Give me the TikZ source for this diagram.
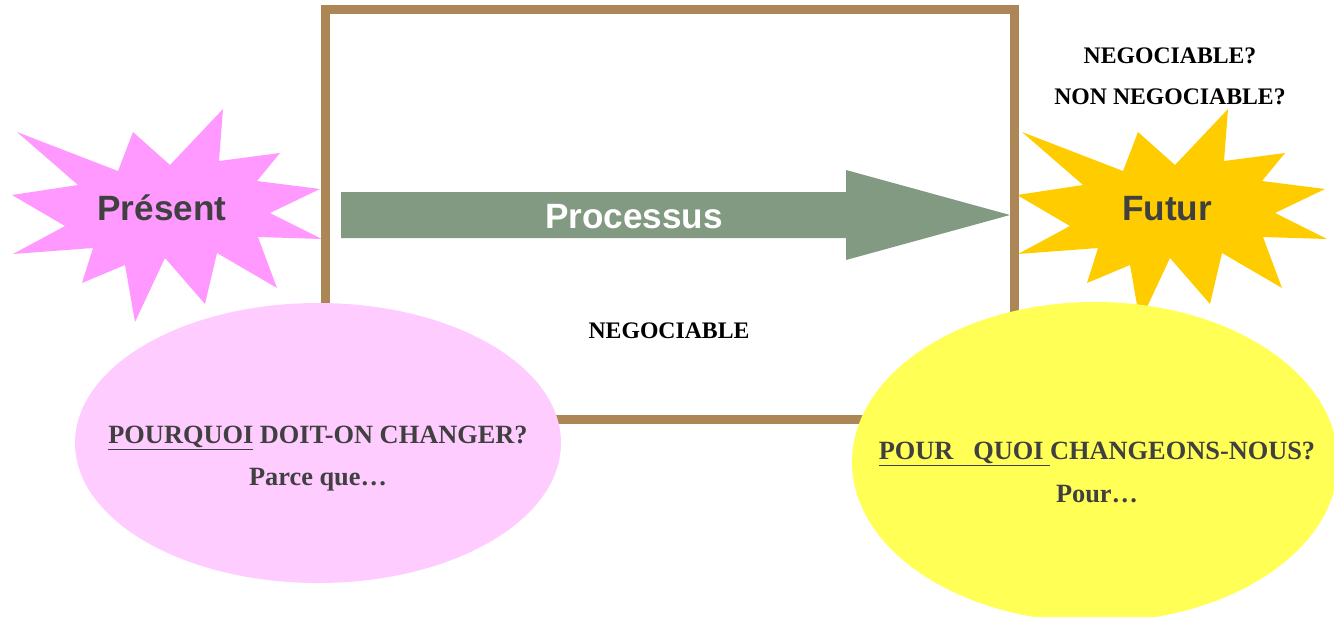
\documentclass[tikz,border=0pt]{standalone}
\usepackage{fontspec}
\setmainfont{Liberation Serif}
\newfontfamily\arialfont{Liberation Sans}
\definecolor{framebrown}{RGB}{173,134,85}
\definecolor{arrowgreen}{RGB}{130,154,130}
\definecolor{starpink}{RGB}{255,153,255}
\definecolor{stargold}{RGB}{255,204,0}
\definecolor{ovalpink}{RGB}{255,204,255}
\definecolor{ovalyellow}{RGB}{255,255,85}
\definecolor{textgray}{RGB}{64,64,64}
\newcommand{\burst}{(223,109) -- (219,161) -- (280,153) -- (257,181) -- (320,189)
  -- (270,213) -- (322,239) -- (258,237) -- (277,288) -- (217,253) -- (205,304)
  -- (165,258) -- (135,322) -- (125,265) -- (82,283) -- (93,248) -- (13,254)
  -- (65,226) -- (12,195) -- (78,185) -- (17,132) -- (118,171) -- (133,132)
  -- (170,165) -- cycle}
\tikzset{
  starlabel/.style={anchor=base, text=textgray, font=\arialfont\bfseries\fontsize{20}{24}\selectfont},
  ovaltext/.style={anchor=base, text=textgray, font=\bfseries\fontsize{15}{18}\selectfont},
  bluntext/.style={anchor=base, font=\bfseries\fontsize{13.5}{16}\selectfont}
}
\begin{document}
\begin{tikzpicture}[x=0.02cm, y=-0.02cm]
      \useasboundingbox (0,0) rectangle (1334,616);
      % stars
      \fill[starpink] \burst;
      \begin{scope}[shift={(1005,0)}]
        \fill[stargold] \burst;
      \end{scope}
      % frame and arrow
      \draw[framebrown, line width=9*0.02cm] (325.5,9.5) rectangle (1014.5,419.5);
      \fill[arrowgreen] (341,192) -- (846,192) -- (846,170) -- (1010,215)
        -- (846,260) -- (846,238) -- (341,238) -- cycle;
      % ovals
      \fill[ovalpink] (318,443) ellipse [x radius=243, y radius=140];
      \fill[ovalyellow] (1095,462) ellipse [x radius=243, y radius=160];
      \draw
        (162,220) node[starlabel] (present){Présent}
        (1167,220) node[starlabel] (futur){Futur}
        (634,228) node[starlabel, text=white] (processus){Processus}
        (669,338) node[bluntext] (neg){NEGOCIABLE}
        (1170,63) node[bluntext] (negq){NEGOCIABLE?}
        (1170,104) node[bluntext] (nonneg){NON NEGOCIABLE?}
        (318,443) node[ovaltext] (pourquoi){\underline{POURQUOI} DOIT-ON CHANGER?}
        (318,485) node[ovaltext] (parce){Parce que…}
        (1097,459) node[ovaltext] (pourquoi2){\underline{POUR\ \ \ QUOI\ }CHANGEONS-NOUS?}
        (1097,502) node[ovaltext] (pour){Pour…};
    \end{tikzpicture}
\end{document}
